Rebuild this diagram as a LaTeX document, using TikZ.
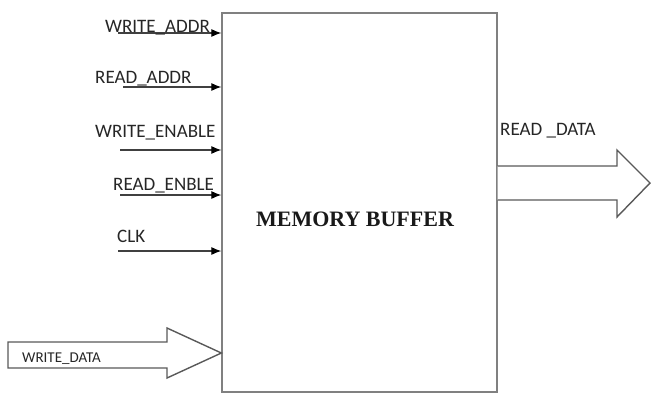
\documentclass[tikz,border=0pt]{standalone}
\usepackage{fontspec}
\setmainfont{Carlito}
\newfontfamily\titulofont{Liberation Serif}
\usetikzlibrary{calc}
\usetikzlibrary{arrows.meta}

\begin{document}
\begin{tikzpicture}[
    % Unidades em pixels da figura (y para baixo)
    x=1pt, y=-1pt,
    % Caixa principal
    caixa/.style={draw=black!50, line width=1.3pt, minimum width=275pt, minimum height=379pt, inner sep=0pt},
    % Texto central
    titulo/.style={anchor=base, inner sep=0pt, font=\titulofont\bfseries\fontsize{22}{24}\selectfont, text=black!90},
    % Rótulos dos sinais
    rotulo/.style={anchor=base west, inner sep=0pt, font=\fontsize{19}{21}\selectfont, text=black!85},
    % Setas finas de entrada
    sinal/.style={draw=black!75, line width=1.1pt, -{Latex[length=10pt, width=8pt, black]}},
    % Setas largas (barramentos)
    bloco/.style={draw=black!65, line width=1.4pt, fill=white, line join=miter}
  ]

  % Área total da figura
  \useasboundingbox (0,0) rectangle (652,394);

  % Bloco de memória
  \node[caixa] (buffer) at (359.5,202.5) {};
  \node[titulo] (nome) at (355,226) {MEMORY BUFFER};

  % Entrada WRITE_ADDR
  \coordinate (wa) at (118,33);
  \draw[sinal] (wa) -- (wa -| buffer.west);
  \node[rotulo] (lwa) at (105,32) {WRITE\_ADDR};

  % Entrada READ_ADDR
  \coordinate (ra) at (123,87);
  \draw[sinal] (ra) -- (ra -| buffer.west);
  \node[rotulo] (lra) at (95,83) {READ\_ADDR};

  % Entrada WRITE_ENABLE
  \coordinate (we) at (120,150);
  \draw[sinal] (we) -- (we -| buffer.west);
  \node[rotulo] (lwe) at (95,137) {WRITE\_ENABLE};

  % Entrada READ_ENBLE
  \coordinate (re) at (120,195);
  \draw[sinal] (re) -- (re -| buffer.west);
  \node[rotulo] (lre) at (113,190) {READ\_ENBLE};

  % Entrada CLK
  \coordinate (clk) at (118,251);
  \draw[sinal] (clk) -- (clk -| buffer.west);
  \node[rotulo] (lclk) at (117,242) {CLK};

  % Barramento de escrita (seta larga)
  \coordinate (wd) at (buffer.west |- 0,353);
  \draw[bloco] (8,342) -- (167,342) -- (167,328) -- (wd) -- (167,378)
    -- (167,368) -- (8,368) -- cycle;
  \node[rotulo, font=\fontsize{15}{17}\selectfont] (lwd) at (22,362) {WRITE\_DATA};

  % Barramento de leitura (seta larga)
  \coordinate (rd) at (buffer.east |- 0,183);
  \draw[bloco] (rd |- 0,166) -- (617,166) -- (617,150) -- (650,183) -- (617,217)
    -- (617,200) -- (rd |- 0,200);
  \node[rotulo] (lrd) at (500,135) {READ \_DATA};

\end{tikzpicture}
\end{document}
